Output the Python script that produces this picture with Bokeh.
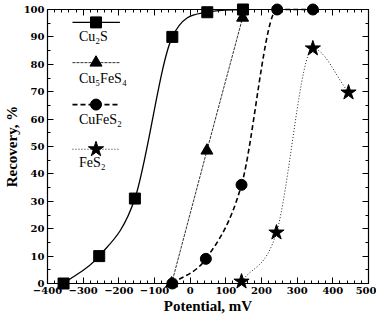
import numpy as np
from bokeh.plotting import figure
from bokeh.models import LinearAxis, Range1d, FixedTicker, Label
from bokeh.embed import file_html
from bokeh.resources import INLINE

# ---- data ----
cu2s_x = [-355, -255, -155, -50, 48, 148]
cu2s_y = [0, 10, 31, 90, 99, 100]
cu5_x = [-52, 47, 147]
cu5_y = [0, 48.5, 97]
cufe_x = [-50, 44, 144, 244, 344]
cufe_y = [0, 9, 36, 100, 100]
fes2_x = [144, 242, 344, 444]
fes2_y = [0.7, 18.6, 85.8, 69.7]
names = ["Cu\u2082S", "Cu\u2085FeS\u2084", "CuFeS\u2082", "FeS\u2082"]
x_ticks = [-400, -300, -200, -100, 0, 100, 200, 300, 400, 500]
y_ticks = [0, 10, 20, 30, 40, 50, 60, 70, 80, 90, 100]

SERIF = "Liberation Serif"


def monotone_bezier(xs, ys):
    x = np.asarray(xs, float)
    y = np.asarray(ys, float)
    h = np.diff(x)
    d = np.diff(y) / h
    n = len(x)
    m = np.zeros(n)
    m[0] = d[0]
    m[-1] = d[-1]
    for k in range(1, n - 1):
        if d[k - 1] * d[k] <= 0:
            m[k] = 0
        else:
            m[k] = (d[k - 1] + d[k]) / 2
    for k in range(n - 1):
        if d[k] == 0:
            m[k] = m[k + 1] = 0
            continue
        a, b = m[k] / d[k], m[k + 1] / d[k]
        s = a * a + b * b
        if s > 9:
            t = 3 / np.sqrt(s)
            m[k] = t * a * d[k]
            m[k + 1] = t * b * d[k]
    return dict(x0=x[:-1], y0=y[:-1], x1=x[1:], y1=y[1:],
                cx0=x[:-1] + h / 3, cy0=y[:-1] + m[:-1] * h / 3,
                cx1=x[1:] - h / 3, cy1=y[1:] - m[1:] * h / 3)


p = figure(width=376, height=317, output_backend="svg", toolbar_location=None,
           x_range=Range1d(-400, 500), y_range=Range1d(0, 100),
           min_border_left=45, min_border_right=8, min_border_top=9, min_border_bottom=34)
p.background_fill_color = "white"
p.border_fill_color = "white"
p.outline_line_color = "black"
p.outline_line_width = 1.2
p.xgrid.visible = False
p.ygrid.visible = False

styles = [
    dict(dash="solid", width=1.3, color="black", marker="square", size=11),
    dict(dash="3 1", width=1.0, color="#333333", marker="triangle", size=12),
    dict(dash="5 3", width=1.6, color="black", marker="circle", size=11),
    dict(dash="1 2", width=1.0, color="#222222", marker="star", size=16),
]
series = [(cu2s_x, cu2s_y), (cu5_x, cu5_y), (cufe_x, cufe_y), (fes2_x, fes2_y)]
for (xs, ys), st in zip(series, styles):
    b = monotone_bezier(xs, ys)
    p.bezier(line_color=st["color"], line_width=st["width"], line_dash=st["dash"], level="overlay", **b)
for (xs, ys), st in zip(series, styles):
    p.scatter(xs, ys, marker=st["marker"], size=st["size"], fill_color="black",
              line_color="black", level="overlay")

# legend (custom layout: sample above label)
leg_x0, leg_x1, leg_xm, leg_tx = -330, -197, -264, -312
leg_sample_y = [95.3, 80.6, 65.3, 49.0]
leg_label_y = [90, 75, 60, 44]
for st, nm, sy, ly in zip(styles, names, leg_sample_y, leg_label_y):
    p.line([leg_x0, leg_x1], [sy, sy], line_color=st["color"], line_width=st["width"], line_dash=st["dash"])
    p.scatter([leg_xm], [sy], marker=st["marker"], size=st["size"], fill_color="black", line_color="black")
    p.add_layout(Label(x=leg_tx, y=ly, text=nm, text_font=SERIF, text_font_size="14px",
                       text_baseline="middle", text_align="left", text_color="black"))

for ax in (p.xaxis[0], p.yaxis[0]):
    ax.major_label_text_font = "DejaVu Serif"
    ax.major_label_text_font_style = "bold"
    ax.major_label_text_font_size = "10px"
    ax.major_label_text_color = "black"
    ax.axis_label_text_font = SERIF
    ax.axis_label_text_font_style = "bold"
    ax.axis_label_text_font_size = "15px"
    ax.axis_label_text_color = "black"
    ax.axis_line_color = "black"
    ax.major_tick_in = 6
    ax.major_tick_out = 0
    ax.minor_tick_in = 3
    ax.minor_tick_out = 0
    ax.major_tick_line_color = "black"
    ax.minor_tick_line_color = "black"
    ax.major_label_standoff = 3
    ax.axis_label_standoff = 1

p.xaxis[0].ticker = FixedTicker(ticks=x_ticks, minor_ticks=list(range(-400, 501, 20)))
p.yaxis[0].ticker = FixedTicker(ticks=y_ticks, minor_ticks=list(range(0, 101, 5)))
p.xaxis[0].axis_label = "Potential, mV"
p.yaxis[0].axis_label = "Recovery, %"
p.xaxis[0].major_label_overrides = {t: ("\u2212" + str(-t) if t < 0 else str(t)) for t in x_ticks}

top = LinearAxis(ticker=FixedTicker(ticks=x_ticks, minor_ticks=list(range(-400, 501, 20))))
right = LinearAxis(ticker=FixedTicker(ticks=y_ticks, minor_ticks=list(range(0, 101, 5))))
top.major_label_overrides = {t: "" for t in x_ticks}
right.major_label_overrides = {t: "" for t in y_ticks}
for ax in (top, right):
    ax.major_label_text_font_size = "1px"
    ax.major_label_standoff = 0
    ax.major_tick_in = 6
    ax.major_tick_out = 0
    ax.minor_tick_in = 3
    ax.minor_tick_out = 0
    ax.axis_line_color = "black"
    ax.major_tick_line_color = "black"
    ax.minor_tick_line_color = "black"
p.add_layout(top, "above")
p.add_layout(right, "right")

open("out.html", "w").write(file_html(p, INLINE))
